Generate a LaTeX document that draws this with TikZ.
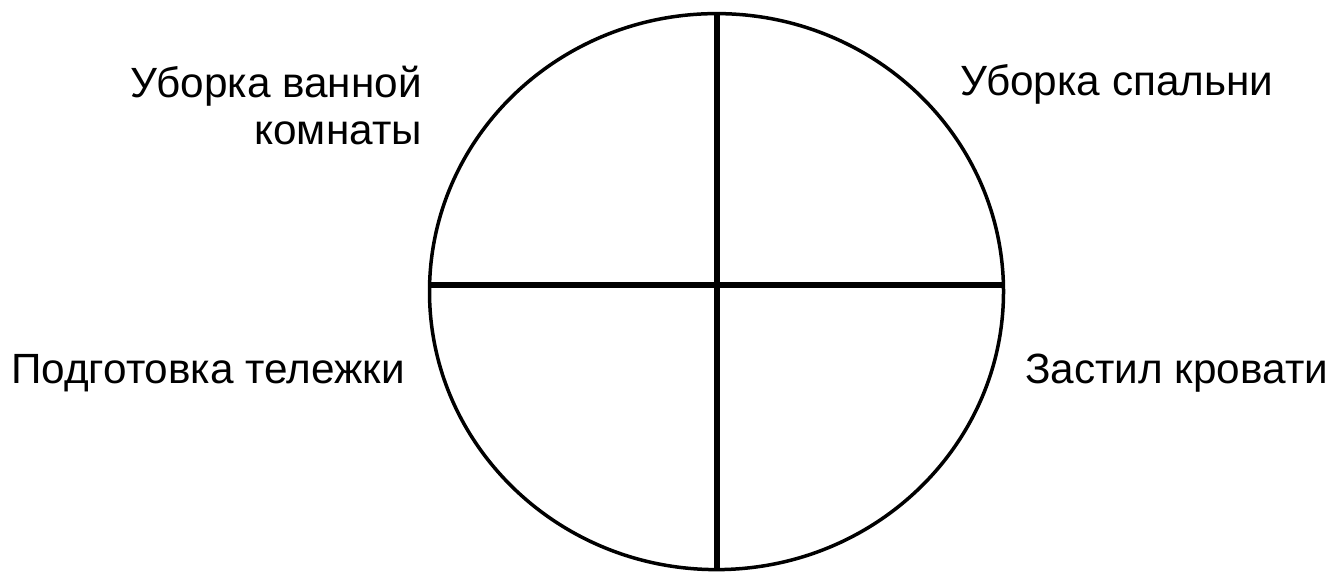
\documentclass[tikz,border=0pt]{standalone}
\usepackage{fontspec}
\setmainfont{Liberation Sans}
\usetikzlibrary{shapes.geometric}
\begin{document}
\begin{tikzpicture}[x=1pt,y=-1pt,
  lbl/.style={inner sep=0pt, font=\fontsize{42.3}{47}\selectfont, align=right},
  rim/.style={ellipse, draw, line width=3.5pt, inner sep=0pt, minimum width=574pt, minimum height=556pt},
  bar/.style={line width=6pt}]
\useasboundingbox (0,0) rectangle (1332,571);
\node[rim] (c) at (716.5,291.6) {};
\coordinate (hl) at (429.5,285);
\coordinate (hr) at (1003.5,285);
\draw[bar] (c.north) -- (c.south);
\draw[bar] (hl) -- (hr);
\node[lbl, anchor=base east] (bath) at (422,144) {Уборка ванной\\комнаты};
\node[lbl, anchor=base west] (bed) at (960,95) {Уборка спальни};
\node[lbl, anchor=base east] (cart) at (405,383) {Подготовка тележки};
\node[lbl, anchor=base west] (make) at (1025,383) {Застил кровати};
\end{tikzpicture}
\end{document}
